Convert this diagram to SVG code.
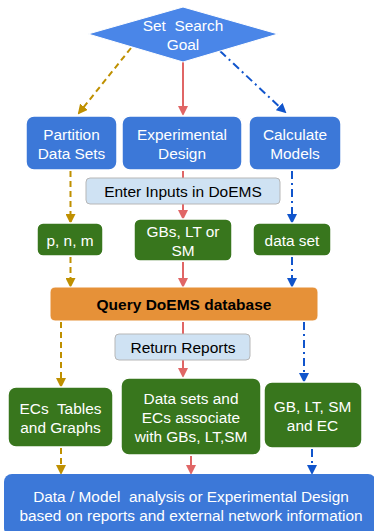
<svg xmlns="http://www.w3.org/2000/svg" width="374" height="531" viewBox="0 0 374 531">
<style>
.t{font-family:"Liberation Sans",Arial,sans-serif;text-anchor:middle;white-space:pre}
.w{fill:#ffffff;font-size:15.4px}
.k{fill:#000000;font-size:15.5px}
.blue{fill:#3C78D8;stroke:#ffffff;stroke-width:1.5}
.green{fill:#38761D;stroke:#ffffff;stroke-width:1.5}
.lbl{fill:#CFE2F3;stroke:#b7b7b7;stroke-width:1}
.g{stroke:#BF9000;stroke-width:2;fill:none;stroke-dasharray:6,4}
.r{stroke:#E06666;stroke-width:2;fill:none}
.b{stroke:#1155CC;stroke-width:2;fill:none;stroke-dasharray:8,4,2,4}
</style>
<defs>
<marker id="ag" markerWidth="10" markerHeight="10" refX="8" refY="5" orient="auto" markerUnits="userSpaceOnUse"><path d="M0,0 L10,5 L0,10 z" fill="#BF9000"/></marker>
<marker id="ar" markerWidth="10" markerHeight="10" refX="8" refY="5" orient="auto" markerUnits="userSpaceOnUse"><path d="M0,0 L10,5 L0,10 z" fill="#E06666"/></marker>
<marker id="ab" markerWidth="10" markerHeight="10" refX="8" refY="5" orient="auto" markerUnits="userSpaceOnUse"><path d="M0,0 L10,5 L0,10 z" fill="#1155CC"/></marker>
</defs>
<g id="connectors">
<line class="g" x1="131" y1="48" x2="79" y2="113" marker-end="url(#ag)"/>
<line class="r" x1="183" y1="62" x2="183" y2="114" marker-end="url(#ar)"/>
<line class="b" x1="220" y1="51" x2="285" y2="112" marker-end="url(#ab)"/>
<line class="g" x1="70.5" y1="171" x2="70.5" y2="222" marker-end="url(#ag)"/>
<line class="r" x1="183" y1="171" x2="183" y2="218" marker-end="url(#ar)"/>
<line class="b" x1="292" y1="171" x2="292" y2="222" marker-end="url(#ab)"/>
<line class="g" x1="70.5" y1="257" x2="70.5" y2="286" marker-end="url(#ag)"/>
<line class="r" x1="183" y1="262" x2="183" y2="286" marker-end="url(#ar)"/>
<line class="b" x1="292" y1="257" x2="292" y2="286" marker-end="url(#ab)"/>
<line class="g" x1="61" y1="322" x2="61" y2="386" marker-end="url(#ag)"/>
<line class="r" x1="183" y1="322" x2="183" y2="376" marker-end="url(#ar)"/>
<line class="b" x1="304" y1="322" x2="304" y2="381" marker-end="url(#ab)"/>
<line class="g" x1="61" y1="448" x2="61" y2="473" marker-end="url(#ag)"/>
<line class="r" x1="191" y1="456" x2="191" y2="473" marker-end="url(#ar)"/>
<line class="b" x1="312" y1="449" x2="312" y2="473" marker-end="url(#ab)"/>
</g>
<g id="goal">
<polygon points="183,7 278,34 183,62 88,34" fill="#4A86E8" stroke="#ffffff" stroke-width="1"/>
<text class="t w" x="183" y="31">Set  Search</text>
<text class="t w" x="183" y="50">Goal</text>
</g>
<g id="partition">
<rect class="blue" x="26" y="116" width="91" height="54" rx="8"/>
<text class="t w" x="71.5" y="140">Partition</text>
<text class="t w" x="71.5" y="159">Data Sets</text>
</g>
<g id="experimental">
<rect class="blue" x="122" y="116" width="120" height="54" rx="8"/>
<text class="t w" x="182" y="140">Experimental</text>
<text class="t w" x="182" y="159">Design</text>
</g>
<g id="calculate">
<rect class="blue" x="249" y="116" width="92" height="54" rx="8"/>
<text class="t w" x="295" y="140">Calculate</text>
<text class="t w" x="295" y="159">Models</text>
</g>
<g id="enter">
<rect class="lbl" x="86" y="178" width="194" height="26" rx="4"/>
<text class="t k" x="183" y="197">Enter Inputs in DoEMS</text>
</g>
<g id="pnm">
<rect class="green" x="37" y="223" width="66" height="33" rx="6"/>
<text class="t w" x="70" y="246">p, n, m</text>
</g>
<g id="gbs">
<rect class="green" x="134" y="219" width="98" height="42" rx="6"/>
<text class="t w" x="183" y="237">GBs, LT or</text>
<text class="t w" x="183" y="256">SM</text>
</g>
<g id="dataset">
<rect class="green" x="253" y="223" width="78" height="33" rx="6"/>
<text class="t w" x="292" y="246">data set</text>
</g>
<g id="query">
<rect x="50" y="287" width="268" height="34" rx="5" fill="#E69138" stroke="#ffffff" stroke-width="1"/>
<text class="t" x="184" y="310" font-size="15.5" font-weight="bold" fill="#000000">Query DoEMS database</text>
</g>
<g id="return">
<rect class="lbl" x="115" y="334" width="135" height="26" rx="4"/>
<text class="t k" x="183" y="353">Return Reports</text>
</g>
<g id="ecs">
<rect class="green" x="8" y="387" width="105" height="60" rx="8"/>
<text class="t w" x="60.5" y="414">ECs  Tables</text>
<text class="t w" x="60.5" y="433">and Graphs</text>
</g>
<g id="datasets">
<rect class="green" x="121" y="378" width="140" height="77" rx="8"/>
<text class="t w" x="191" y="404">Data sets and</text>
<text class="t w" x="191" y="423">ECs associate</text>
<text class="t w" x="191" y="442">with GBs, LT,SM</text>
</g>
<g id="gbec">
<rect class="green" x="264" y="382" width="98" height="66" rx="8"/>
<text class="t w" x="312.5" y="412">GB, LT, SM</text>
<text class="t w" x="312.5" y="431">and EC</text>
</g>
<g id="analysis">
<rect x="4" y="474" width="372" height="62" rx="8" fill="#3C78D8"/>
<text class="t w" x="191" y="502">Data / Model  analysis or Experimental Design</text>
<text class="t w" x="191" y="521">based on reports and external network information</text>
</g>
</svg>
